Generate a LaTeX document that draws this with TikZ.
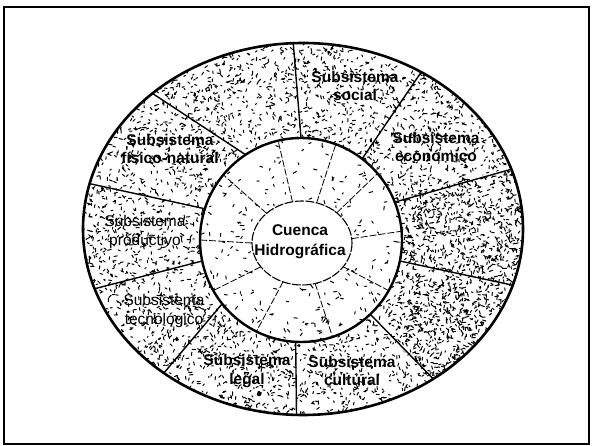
\documentclass[tikz,border=0pt]{standalone}
\usepackage{fontspec}
\setmainfont{Liberation Sans}
\usetikzlibrary{shapes.geometric}
\begin{document}
\begin{tikzpicture}[x=1pt,y=-1pt,
  lbl/.style={font=\fontsize{15.5}{18.5}\selectfont\bfseries, align=center, inner sep=0pt},
  lblr/.style={font=\fontsize{15.5}{18.5}\selectfont, align=center, inner sep=0pt},
  ring/.style={ellipse, inner sep=0pt, outer sep=0pt},
  divo/.style={line width=1.4pt},
  divi/.style={line width=0.8pt, dash pattern=on 7pt off 2pt},
  speck/.style={line width=1pt, line cap=round}
]
\path[use as bounding box, fill=white] (0,0) rectangle (592,446);
\draw[line width=2pt] (4,7) rectangle (589,444);

% shapes (named)
\node[ring, minimum width=440pt, minimum height=372pt] (outer) at (303,229) {};
\node[ring, minimum width=202pt, minimum height=204pt] (mid) at (301,240) {};
\node[ring, minimum width=100pt, minimum height=84pt] (core) at (302,243) {};

% stipple of the outer ring
\pgfmathsetseed{7}
\begin{scope}
  \clip (303,229) ellipse [x radius=220, y radius=186];
  \path[draw, speck] \foreach \i in {1,...,6000} { ({303+220*rand},{229+186*rand}) -- ++({360*rnd}:{1.2+2.4*rnd}) };
  \begin{scope}
    \clip (398,200) -- (512,166) -- (545,166) -- (545,320) -- (470,420) -- (432,381) -- (372,318) -- (405,262) -- cycle;
    \path[draw, speck] \foreach \i in {1,...,1000} { ({470+70*rand},{290+120*rand}) -- ++({360*rnd}:{1.5+2.5*rnd}) };
  \end{scope}
\end{scope}
\fill[white] (301,240) ellipse [x radius=101, y radius=102];
\begin{scope}
  \clip (301,240) ellipse [x radius=101, y radius=102];
  \path[draw, speck] \foreach \i in {1,...,300} { ({301+101*rand},{240+102*rand}) -- ++({360*rnd}:{1.2+2.8*rnd}) };
\end{scope}
\fill[white] (302,243) ellipse [x radius=50, y radius=42];

% outlines
\draw[line width=2.6pt] (303,229) ellipse [x radius=220, y radius=186];
\draw[line width=2.4pt] (301,240) ellipse [x radius=101, y radius=102];
\draw[line width=1.1pt, dash pattern=on 9pt off 1.5pt] (302,243) ellipse [x radius=50, y radius=42];

% outer ring dividers
\draw[divo] (mid.90) -- (outer.93.4);
\draw[divo] (mid.53.7) -- (outer.53.5);
\draw[divo] (mid.22) -- (outer.16.4);
\draw[divo] (mid.-12) -- (outer.-15.3);
\draw[divo] (mid.-47.7) -- (outer.-49.7);
\draw[divo] (mid.-93) -- (outer.-92.5);
\draw[divo] (mid.-141) -- (outer.-134.4);
\draw[divo] (mid.-168) -- (outer.-164.8);
\draw[divo] (mid.162) -- (outer.168.3);
\draw[divo] (mid.123) -- (outer.138.3);

% inner ring dividers
\foreach \a in {103,70,41,5,-30,-72,-116,-150,180,140}
  \draw[divi] (core.\a) -- (mid.\a);

% labels
\node[lbl] (social) at (355,86) {Subsistema\\social};
\node[lbl] (econ) at (436,147) {Subsistema\\económico};
\node[lbl] (fisico) at (170,149) {Subsistema\\físico-natural};
\node[lblr] (prod) at (145,232) {Subsistema\\productivo};
\node[lblr] (tecno) at (164,311) {Subsistema\\tecnológico};
\node[lbl] (legal) at (247,371) {Subsistema\\legal};
\node[lbl] (cult) at (352,371) {Subsistema\\cultural};
\node[lbl, font=\fontsize{15.5}{20}\selectfont\bfseries] (cuenca) at (300,242) {Cuenca\\Hidrográfica};
\end{tikzpicture}
\end{document}
